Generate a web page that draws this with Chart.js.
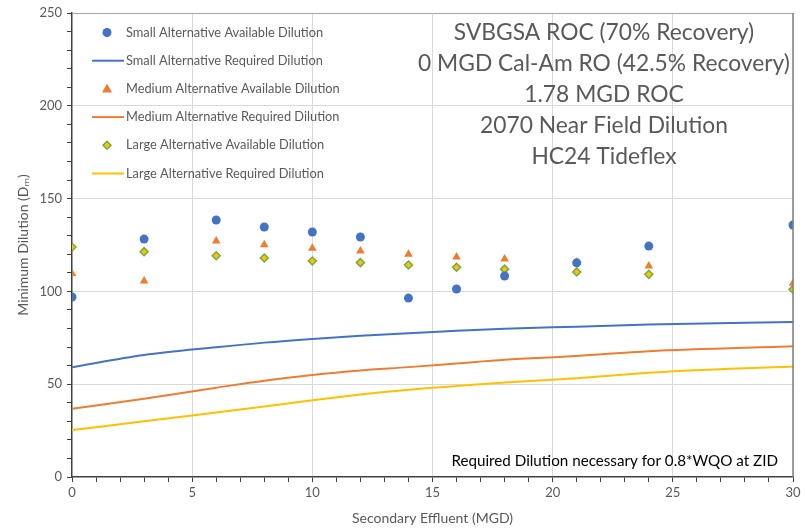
<!DOCTYPE html>
<html><head><meta charset="utf-8">
<script src="https://cdn.jsdelivr.net/npm/chart.js@4.4.0/dist/chart.umd.min.js"></script>
<style>html,body{margin:0;padding:0;background:#fff;} #wrap{width:805px;height:531px;position:relative}</style>
</head><body><div id="wrap"><canvas id="c" width="805" height="531"></canvas></div>
<script>
const flows = [0, 3, 6, 8, 10, 12, 14, 16, 18, 21, 24, 30];
const smallAvailable  = [97.0, 128.2, 138.5, 134.7, 132.0, 129.3, 96.4, 101.3, 108.3, 115.4, 124.4, 135.8];
const mediumAvailable = [109.7, 105.6, 127.2, 125.2, 123.2, 121.8, 120.0, 118.5, 117.5, 115.7, 113.7, 104.4];
const largeAvailable  = [123.9, 121.4, 119.2, 118.0, 116.4, 115.5, 114.2, 113.0, 112.0, 110.5, 109.2, 101.1];
const smallRequired   = [59.1, 65.7, 69.9, 72.4, 74.4, 76.1, 77.4, 78.8, 79.9, 81.0, 82.1, 83.5];
const mediumRequired  = [36.8, 42.2, 48.1, 51.9, 55.0, 57.4, 59.2, 61.2, 63.2, 65.2, 67.8, 70.4];
const largeRequired   = [25.3, 30.0, 34.8, 38.0, 41.4, 44.4, 47.0, 49.0, 50.9, 53.2, 56.2, 59.6];
const seriesNames = [
  'Small Alternative Available Dilution',
  'Small Alternative Required Dilution',
  'Medium Alternative Available Dilution',
  'Medium Alternative Required Dilution',
  'Large Alternative Available Dilution',
  'Large Alternative Required Dilution'
];
const titleLines = [
  'SVBGSA ROC (70% Recovery)',
  '0 MGD Cal-Am RO (42.5% Recovery)',
  '1.78 MGD ROC',
  '2070 Near Field Dilution',
  'HC24 Tideflex'
];
const noteText = 'Required Dilution necessary for 0.8*WQO at ZID';
const xTitle = 'Secondary Effluent (MGD)';
const yTitle = 'Minimum Dilution (Dₘ)';

const BLUE = '#4472C4', ORANGE = '#ED7D31', YELLOW = '#FFC000', GREEN = '#70AD47';
const FONT = "Lato, 'Open Sans', 'DejaVu Sans', sans-serif";
const GREY = '#595959';

const pts = arr => flows.map((x, i) => ({x, y: arr[i]}));

const datasets = [
  {label: seriesNames[0], data: pts(smallAvailable), showLine: false, pointStyle: 'circle', pointRadius: 4.5, backgroundColor: BLUE, borderColor: BLUE, borderWidth: 0},
  {label: seriesNames[1], data: pts(smallRequired), showLine: true, pointRadius: 0, borderColor: BLUE, borderWidth: 2, cubicInterpolationMode: 'monotone', fill: false},
  {label: seriesNames[2], data: pts(mediumAvailable), showLine: false, pointStyle: 'triangle', pointRadius: 5, backgroundColor: ORANGE, borderColor: ORANGE, borderWidth: 0},
  {label: seriesNames[3], data: pts(mediumRequired), showLine: true, pointRadius: 0, borderColor: ORANGE, borderWidth: 2, cubicInterpolationMode: 'monotone', fill: false},
  {label: seriesNames[4], data: pts(largeAvailable), showLine: false, pointStyle: 'rectRot', pointRadius: 4, backgroundColor: YELLOW, borderColor: GREEN, borderWidth: 1.5},
  {label: seriesNames[5], data: pts(largeRequired), showLine: true, pointRadius: 0, borderColor: YELLOW, borderWidth: 2, cubicInterpolationMode: 'monotone', fill: false}
];

function drawMarker(ctx, style, x, y) {
  ctx.save();
  if (style === 'circle') {
    ctx.fillStyle = BLUE; ctx.beginPath(); ctx.arc(x, y, 4.5, 0, Math.PI * 2); ctx.fill();
  } else if (style === 'triangle') {
    ctx.fillStyle = ORANGE; ctx.beginPath();
    ctx.moveTo(x, y - 5.5); ctx.lineTo(x + 5, y + 3.5); ctx.lineTo(x - 5, y + 3.5); ctx.closePath(); ctx.fill();
  } else if (style === 'rectRot') {
    ctx.fillStyle = YELLOW; ctx.strokeStyle = GREEN; ctx.lineWidth = 1.5; ctx.beginPath();
    ctx.moveTo(x, y - 4); ctx.lineTo(x + 4, y); ctx.lineTo(x, y + 4); ctx.lineTo(x - 4, y); ctx.closePath(); ctx.fill(); ctx.stroke();
  }
  ctx.restore();
}

const overlay = {
  id: 'overlay',
  afterDraw(chart) {
    const ctx = chart.ctx, a = chart.chartArea;
    ctx.save();
    // frame top & right
    ctx.strokeStyle = '#a6a6a6'; ctx.lineWidth = 1;
    ctx.beginPath(); ctx.moveTo(a.left, a.top + 0.5); ctx.lineTo(a.right, a.top + 0.5); ctx.stroke();
    ctx.strokeStyle = '#7f7f7f'; ctx.lineWidth = 1.5;
    ctx.beginPath(); ctx.moveTo(a.right, a.top); ctx.lineTo(a.right, a.bottom); ctx.stroke();

    // legend
    ctx.font = '12.8px ' + FONT; ctx.fillStyle = GREY; ctx.textBaseline = 'middle'; ctx.textAlign = 'left';
    chart.data.datasets.forEach((ds, i) => {
      const y = a.top + 19.5 + i * 28.2;
      const mx = a.left + 35;
      if (ds.showLine) {
        ctx.strokeStyle = ds.borderColor; ctx.lineWidth = 2;
        ctx.beginPath(); ctx.moveTo(a.left + 20, y); ctx.lineTo(a.left + 52, y); ctx.stroke();
      } else {
        drawMarker(ctx, ds.pointStyle, mx, y);
      }
      ctx.fillStyle = GREY;
      ctx.fillText(ds.label, a.left + 54, y);
    });

    // title block
    ctx.font = '22.8px ' + FONT; ctx.fillStyle = GREY; ctx.textAlign = 'center';
    titleLines.forEach((t, i) => ctx.fillText(t, 604, a.top + 20 + i * 31));

    // note
    ctx.font = '15.2px ' + FONT; ctx.fillStyle = '#000'; ctx.textAlign = 'right';
    ctx.fillText(noteText, a.right - 15, a.bottom - 16);
    ctx.restore();
  }
};

new Chart(document.getElementById('c'), {
  type: 'scatter',
  data: {datasets},
  options: {
    responsive: false,
    animation: false,
    devicePixelRatio: 1,
    layout: {padding: {top: 13, right: 12, left: 0, bottom: 0}},
    plugins: {legend: {display: false}, tooltip: {enabled: false}},
    scales: {
      x: {
        type: 'linear', min: 0, max: 30,
        afterFit: s => { s.height = 54; },
        ticks: {stepSize: 1, autoSkip: false, maxRotation: 0, color: GREY, font: {family: FONT, size: 13}, padding: 3,
          callback: v => (v % 5 === 0 ? v : '')},
        grid: {color: c => (c.tick && c.tick.value % 5 === 0 && c.tick.value !== 0) ? '#d9d9d9' : 'rgba(0,0,0,0)',
          tickColor: '#404040', tickLength: 5, lineWidth: 1},
        border: {color: '#404040', width: 1.5},
        title: {display: true, text: xTitle, color: GREY, font: {family: FONT, size: 14}, padding: {top: 0, bottom: 4}}
      },
      y: {
        type: 'linear', min: 0, max: 250,
        afterFit: s => { s.width = 72; },
        ticks: {stepSize: 10, autoSkip: false, color: GREY, font: {family: FONT, size: 13}, padding: 5,
          callback: v => (v % 50 === 0 ? v : '')},
        grid: {color: c => (c.tick && c.tick.value % 50 === 0 && c.tick.value !== 0 && c.tick.value !== 250) ? '#d9d9d9' : 'rgba(0,0,0,0)',
          tickColor: '#404040', tickLength: 5, lineWidth: 1},
        border: {color: '#404040', width: 1.5},
        title: {display: true, text: yTitle, color: GREY, font: {family: FONT, size: 14}, padding: {top: 15, bottom: 0}}
      }
    }
  },
  plugins: [overlay]
});
</script>
</body></html>
